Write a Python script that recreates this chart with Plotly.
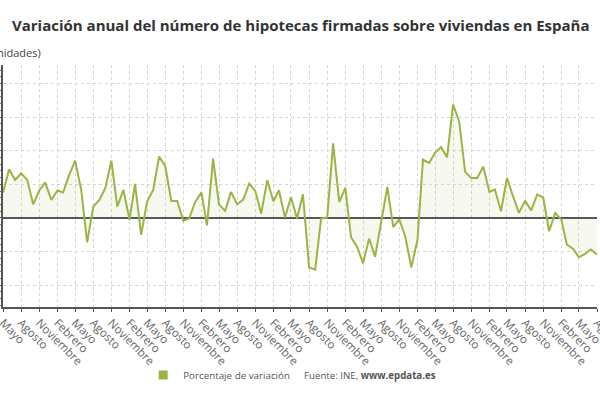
import pandas as pd
import plotly.graph_objects as go

# meses de mayo 2015 a agosto 2023
meses = pd.date_range("2015-05-01", "2023-08-01", freq="MS")

variacion = [
    15, 29, 22.6, 26.6, 22.6, 8.1, 16.3, 21.2, 10.7, 16.3,
    15.1, 25.6, 34.1, 16.7, -14.5, 6.7, 10.7, 17.7, 34.1, 6.7,
    16.7, -1.2, 20.2, -10.1, 9.7, 16.7, 36.5, 31, 10.1, 10.1,
    -1.8, -0.2, 9.7, 15.2, -4.4, 35.3, 8.1, 4.2, 15.5, 8.1,
    10.9, 20.4, 16.1, 2.6, 22.4, 9.9, 16.5, 0.2, 12.5, -0.4,
    14.1, -29.5, -30.8, -0.4, 0.2, 44.4, 9.5, 17.9, -11.5, -17.2,
    -27, -12.2, -23.2, -2.4, 18.5, -5.5, -0.8, -11, -29.5, -13,
    34.7, 32.7, 38.7, 42.1, 36.1, 67.5, 57.1, 27.4, 23.8, 23.8,
    30.4, 15.5, 16.9, 4, 23.8, 12.9, 3, 10.3, 4.4, 13.9,
    12.3, -7.9, 3, -1, -15.9, -18.3, -23.4, -21.4, -18.8, -21.8,
]

nombres_mes = ["Mayo", "Agosto", "Noviembre", "Febrero"]
tick_fechas = meses[::3]
tick_textos = [nombres_mes[k % 4] for k in range(len(tick_fechas))]

verde = "#9bb446"

fig = go.Figure()

fig.add_trace(go.Scatter(
    x=meses, y=variacion, mode="lines",
    line=dict(color=verde, width=2),
    fill="tozeroy", fillcolor="rgba(155,180,70,0.08)",
    showlegend=False, hoverinfo="x+y"))

# entrada de leyenda con cuadrado
fig.add_trace(go.Scatter(
    x=[None], y=[None], mode="markers", name="Porcentaje de variación",
    marker=dict(symbol="square", size=9, color=verde)))

fig.update_xaxes(
    range=[meses[0], meses[-1]],
    tickmode="array", tickvals=tick_fechas, ticktext=tick_textos,
    tickangle=45, tickfont=dict(family="Open Sans", size=11.5, color="#666"),
    ticklabeloverflow="allow", automargin=False,
    showgrid=True, gridcolor="#d5d5d5", griddash="dot", gridwidth=1,
    showline=True, linecolor="#555", linewidth=1.5,
    ticks="outside", ticklen=3, tickcolor="#555",
    zeroline=False)

fig.update_yaxes(
    range=[-53, 91], dtick=20, tick0=0,
    showticklabels=False, automargin=False,
    showgrid=True, gridcolor="#d5d5d5", griddash="dot", gridwidth=1,
    zeroline=True, zerolinecolor="#555", zerolinewidth=1.5,
    showline=True, linecolor="#555", linewidth=1.5,
    ticks="outside", ticklen=3, tickcolor="#555",
    minor=dict(dtick=4, ticks="outside", ticklen=2, tickcolor="#777", showgrid=False))

fig.update_layout(
    width=600, height=400,
    margin=dict(l=3, r=3, t=65, b=93, autoexpand=False),
    paper_bgcolor="white", plot_bgcolor="white",
    font=dict(family="Open Sans", color="#444"),
    title=dict(text="<b>Variación anual del número de hipotecas firmadas sobre viviendas en España</b>",
               x=12 / 600, xanchor="left", y=1 - 26 / 400, yanchor="middle",
               pad=dict(l=0, r=0, t=0, b=0),
               font=dict(family="Open Sans", size=15, color="#333")),
    legend=dict(orientation="h", x=0.236, xanchor="left", y=-0.281, yanchor="middle",
                font=dict(family="Open Sans", size=9.8, color="#555"),
                bgcolor="rgba(0,0,0,0)"),
    annotations=[
        dict(text="(unidades)", xref="paper", yref="paper", x=-0.03, y=1.05,
             xanchor="left", yanchor="middle", showarrow=False,
             font=dict(family="Open Sans", size=11, color="#444")),
        dict(text="Fuente: INE, <b>www.epdata.es</b>", xref="paper", yref="paper",
             x=0.503, y=-0.281, xanchor="left", yanchor="middle", showarrow=False,
             font=dict(family="Open Sans", size=9.7, color="#555")),
    ],
)

# quitar el margen por defecto del body para que el gráfico ocupe la ventana
fig.write_html("out.html", config={"displayModeBar": False},
               post_script="document.body.style.margin='0';")
